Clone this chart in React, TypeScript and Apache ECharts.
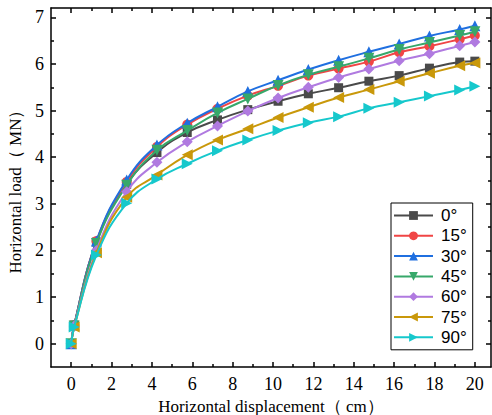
import React, { useEffect, useRef } from "react";
import * as echarts from "echarts";

const displacement = [0, 0.15, 1.25, 2.75, 4.25, 5.75, 7.25, 8.75, 10.25, 11.75, 13.25, 14.75, 16.25, 17.75, 19.25, 20];

const load0 = [0, 0.4, 2.18, 3.42, 4.1, 4.53, 4.8, 5.02, 5.2, 5.36, 5.49, 5.63, 5.75, 5.91, 6.04, 6.06];
const load15 = [0, 0.4, 2.2, 3.47, 4.22, 4.7, 5.04, 5.32, 5.53, 5.75, 5.9, 6.05, 6.25, 6.38, 6.53, 6.61];
const load30 = [0, 0.4, 2.2, 3.51, 4.26, 4.73, 5.08, 5.41, 5.65, 5.88, 6.08, 6.26, 6.43, 6.6, 6.74, 6.82];
const load45 = [0, 0.38, 2.15, 3.4, 4.15, 4.57, 4.95, 5.25, 5.54, 5.77, 5.94, 6.12, 6.31, 6.46, 6.61, 6.69];
const load60 = [0, 0.38, 2.0, 3.26, 3.89, 4.33, 4.67, 4.99, 5.27, 5.5, 5.71, 5.89, 6.07, 6.22, 6.39, 6.47];
const load75 = [0, 0.36, 1.95, 3.14, 3.62, 4.05, 4.37, 4.61, 4.85, 5.07, 5.28, 5.45, 5.63, 5.8, 5.96, 6.02];
const load90 = [0, 0.36, 1.9, 3.01, 3.53, 3.86, 4.14, 4.37, 4.57, 4.74, 4.87, 5.05, 5.18, 5.31, 5.44, 5.52];

const seriesNames = ["0°", "15°", "30°", "45°", "60°", "75°", "90°"];
const seriesValues = [load0, load15, load30, load45, load60, load75, load90];
const seriesColors = ["#4a4a4a", "#f04545", "#1f6fe0", "#37a86a", "#b07ae0", "#c9980a", "#16c8cc"];
const seriesSymbols = ["rect", "circle", "triangle", "triangle", "diamond", "triangle", "triangle"];
const seriesRotate = [0, 0, 0, 180, 0, 90, -90];

const xMajorTicks = [0, 2, 4, 6, 8, 10, 12, 14, 16, 18, 20];
const xMinorTicks = [1, 3, 5, 7, 9, 11, 13, 15, 17, 19];
const yMajorTicks = [0, 1, 2, 3, 4, 5, 6, 7];
const yMinorTicks = [0.5, 1.5, 2.5, 3.5, 4.5, 5.5, 6.5];

const X_NAME = "Horizontal displacement（ cm）";
const Y_NAME = "Horizontal load（ MN）";

export default function App() {
  const ref = useRef<HTMLDivElement>(null);
  useEffect(() => {
    if (!ref.current) return;
    const chart = echarts.init(ref.current, undefined, { renderer: "svg" });
    const serif = "'Liberation Serif', 'Times New Roman', serif";
    const mkLine = () => ({ color: "#000000", width: 1.5 });
    const xBase = { type: "value" as const, min: -1, max: 20.8, gridIndex: 0, splitLine: { show: false } };
    const yBase = { type: "value" as const, min: -0.5, max: 7.2, gridIndex: 0, splitLine: { show: false } };
    const series = seriesNames.map((name, i) => ({
      name,
      type: "line",
      xAxisIndex: 0,
      yAxisIndex: 0,
      data: displacement.map((x, j) => [x, seriesValues[i][j]]),
      smooth: 0.45,
      symbol: seriesSymbols[i],
      symbolRotate: seriesRotate[i],
      symbolSize: seriesSymbols[i] === "rect" ? 9 : seriesSymbols[i] === "circle" ? 10 : 11,
      showAllSymbol: true,
      itemStyle: { color: seriesColors[i] },
      lineStyle: { color: seriesColors[i], width: 2 },
      emphasis: { disabled: true },
      z: 2 + i,
    }));
    const tickAxis = (base: any, position: string, values: number[], length: number, line: boolean) => ({
      ...base,
      position,
      axisLine: { show: line, onZero: false, lineStyle: mkLine() },
      axisTick: { show: true, inside: true, length, lineStyle: mkLine(), customValues: values },
      axisLabel: { show: false },
    });
    chart.setOption({
      animation: false,
      backgroundColor: "#fff",
      grid: { left: 51, right: 1, top: 8, bottom: 48, containLabel: false, outerBoundsMode: "none" },
      legend: {
        orient: "vertical",
        left: 391,
        top: 203,
        data: seriesNames,
        itemWidth: 39,
        itemHeight: 11,
        itemGap: 3.3,
        padding: [4, 6, 4, 2],
        borderColor: "#000",
        borderWidth: 1,
        backgroundColor: "#fff",
        symbolRotate: "inherit",
        textStyle: { fontFamily: "'Liberation Sans', Arial, sans-serif", fontSize: 17, color: "#000", padding: [0, 0, 0, 3] },
      },
      xAxis: [
        {
          ...xBase,
          position: "bottom",
          name: X_NAME,
          nameLocation: "middle",
          nameGap: 27,
          nameTextStyle: { fontFamily: serif, fontSize: 17, color: "#000" },
          axisLine: { show: true, onZero: false, lineStyle: mkLine() },
          axisTick: { show: true, inside: true, length: 5, lineStyle: mkLine(), customValues: xMajorTicks },
          axisLabel: { show: true, margin: 8, fontFamily: serif, fontSize: 18, color: "#000", customValues: xMajorTicks },
        },
        tickAxis(xBase, "bottom", xMinorTicks, 3, false),
        tickAxis(xBase, "top", xMajorTicks, 5, true),
        tickAxis(xBase, "top", xMinorTicks, 3, false),
      ],
      yAxis: [
        {
          ...yBase,
          position: "left",
          name: Y_NAME,
          nameLocation: "middle",
          nameGap: 25,
          nameTextStyle: { fontFamily: serif, fontSize: 17, color: "#000" },
          axisLine: { show: true, onZero: false, lineStyle: mkLine() },
          axisTick: { show: true, inside: true, length: 5, lineStyle: mkLine(), customValues: yMajorTicks },
          axisLabel: { show: true, margin: 7, fontFamily: serif, fontSize: 18, color: "#000", customValues: yMajorTicks },
        },
        tickAxis(yBase, "left", yMinorTicks, 3, false),
        tickAxis(yBase, "right", yMajorTicks, 5, true),
        tickAxis(yBase, "right", yMinorTicks, 3, false),
      ],
      series,
    });
    return () => chart.dispose();
  }, []);
  return <div ref={ref} style={{ width: 492, height: 415, position: "absolute", left: 0, top: 0 }} />;
}
